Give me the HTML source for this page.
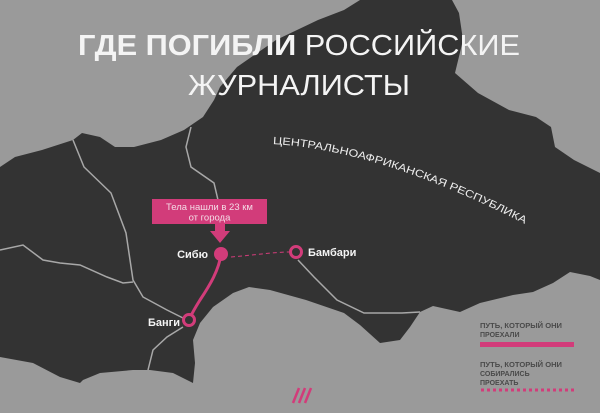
<!DOCTYPE html>
<html><head><meta charset="utf-8"><style>
html,body{margin:0;padding:0;background:#9a9a9a;}
svg{display:block;}
text{font-family:"Liberation Sans","DejaVu Sans",sans-serif;}
</style></head><body>
<svg width="600" height="413" viewBox="0 0 600 413" xmlns="http://www.w3.org/2000/svg">
<rect width="600" height="413" fill="#9a9a9a"/>
<path fill="#333333" d="M0,167 L15,157 L42,150 L73,140 L82,133 L100,137 L115,147 L134,147 L161,140 L184,130 L203,117 L214,100 L220,87 L237,67 L276,40 L318,20 L344,10 L360,0 L452,0 L459,13 L463,40 L455,73 L478,93 L509,110 L536,117 L551,127 L555,147 L574,160 L600,173 L600,280 L590,276 L570,272 L553,283 L533,292 L513,295 L480,303 L460,312 L433,306 L420,312 L410,327 L400,340 L380,343 L360,325 L344,313 L306,300 L270,290 L249,287 L233,293 L213,307 L200,323 L193,340 L195,363 L193,383 L173,373 L150,370 L133,370 L100,373 L83,380 L80,383 L60,377 L33,363 L0,357 Z"/>
<g fill="none" stroke="#a8a8a8" stroke-width="1.5">
<path d="M73,140 L84,167 L111,193 L126,233 L133,280 L143,297 L167,310 L183,318"/>
<path d="M0,250 L23,245 L43,260 L60,263 L80,265 L107,277 L123,283 L133,282"/>
<path d="M191,127 L186,147 L191,167 L214,183 L218,200"/>
<path d="M298,260 L314,277 L337,300 L364,313 L402,313 L420,312"/>
<path d="M183,327 L167,337 L153,350 L148,370"/>
</g>
<text x="78" y="55" font-size="29" fill="#f4f4f4" textLength="442" lengthAdjust="spacingAndGlyphs"><tspan font-weight="bold">ГДЕ ПОГИБЛИ</tspan> РОССИЙСКИЕ</text>
<text x="188" y="95" font-size="29" fill="#f4f4f4" textLength="222" lengthAdjust="spacingAndGlyphs">ЖУРНАЛИСТЫ</text>
<defs><path id="cp" d="M273,144 Q380,150 525,224"/></defs>
<text font-size="10.5" fill="#eeeeee"><textPath href="#cp" textLength="266" lengthAdjust="spacingAndGlyphs">ЦЕНТРАЛЬНОАФРИКАНСКАЯ РЕСПУБЛИКА</textPath></text>
<rect x="152" y="199" width="115" height="25" fill="#d23c7a"/>
<text x="209.5" y="210" font-size="9.5" fill="#f4dbe6" text-anchor="middle">Тела нашли в 23 км</text>
<text x="209.5" y="220.5" font-size="9.5" fill="#f4dbe6" text-anchor="middle">от города</text>
<rect x="215" y="224" width="10" height="8" fill="#d23c7a"/>
<path d="M210,231 L230,231 L220,243 Z" fill="#d23c7a"/>
<path d="M221,254 C219,270 210,285 200,300 C195,308 192,313 190,318" fill="none" stroke="#d23c7a" stroke-width="3"/>
<path d="M231,257 C255,255 275,252 290,252" fill="none" stroke="#d23c7a" stroke-width="1" stroke-dasharray="4,3"/>
<circle cx="221" cy="254" r="7" fill="#d23c7a"/>
<circle cx="296" cy="252" r="5.5" fill="#333" stroke="#d23c7a" stroke-width="3"/>
<circle cx="189" cy="320" r="5.5" fill="#333" stroke="#d23c7a" stroke-width="3"/>
<text x="208" y="258" font-size="11" font-weight="bold" fill="#f4f4f4" text-anchor="end">Сибю</text>
<text x="308" y="256" font-size="11" font-weight="bold" fill="#f4f4f4">Бамбари</text>
<text x="180" y="326" font-size="11" font-weight="bold" fill="#f4f4f4" text-anchor="end">Банги</text>
<g font-size="7" font-weight="bold" fill="#4a4a4a">
<text x="480" y="328" textLength="82" lengthAdjust="spacingAndGlyphs">ПУТЬ, КОТОРЫЙ ОНИ</text>
<text x="480" y="337">ПРОЕХАЛИ</text>
<text x="480" y="367" textLength="82" lengthAdjust="spacingAndGlyphs">ПУТЬ, КОТОРЫЙ ОНИ</text>
<text x="480" y="376">СОБИРАЛИСЬ</text>
<text x="480" y="385">ПРОЕХАТЬ</text>
</g>
<rect x="480" y="342" width="94" height="5" fill="#d23c7a"/>
<line x1="481" y1="390" x2="575" y2="390" stroke="#d23c7a" stroke-width="3" stroke-dasharray="3,3"/>
<g stroke="#d23c7a" stroke-width="2.5">
<line x1="299" y1="388" x2="293" y2="403"/>
<line x1="305" y1="388" x2="299" y2="403"/>
<line x1="311" y1="388" x2="305" y2="403"/>
</g>
</svg>
</body></html>
